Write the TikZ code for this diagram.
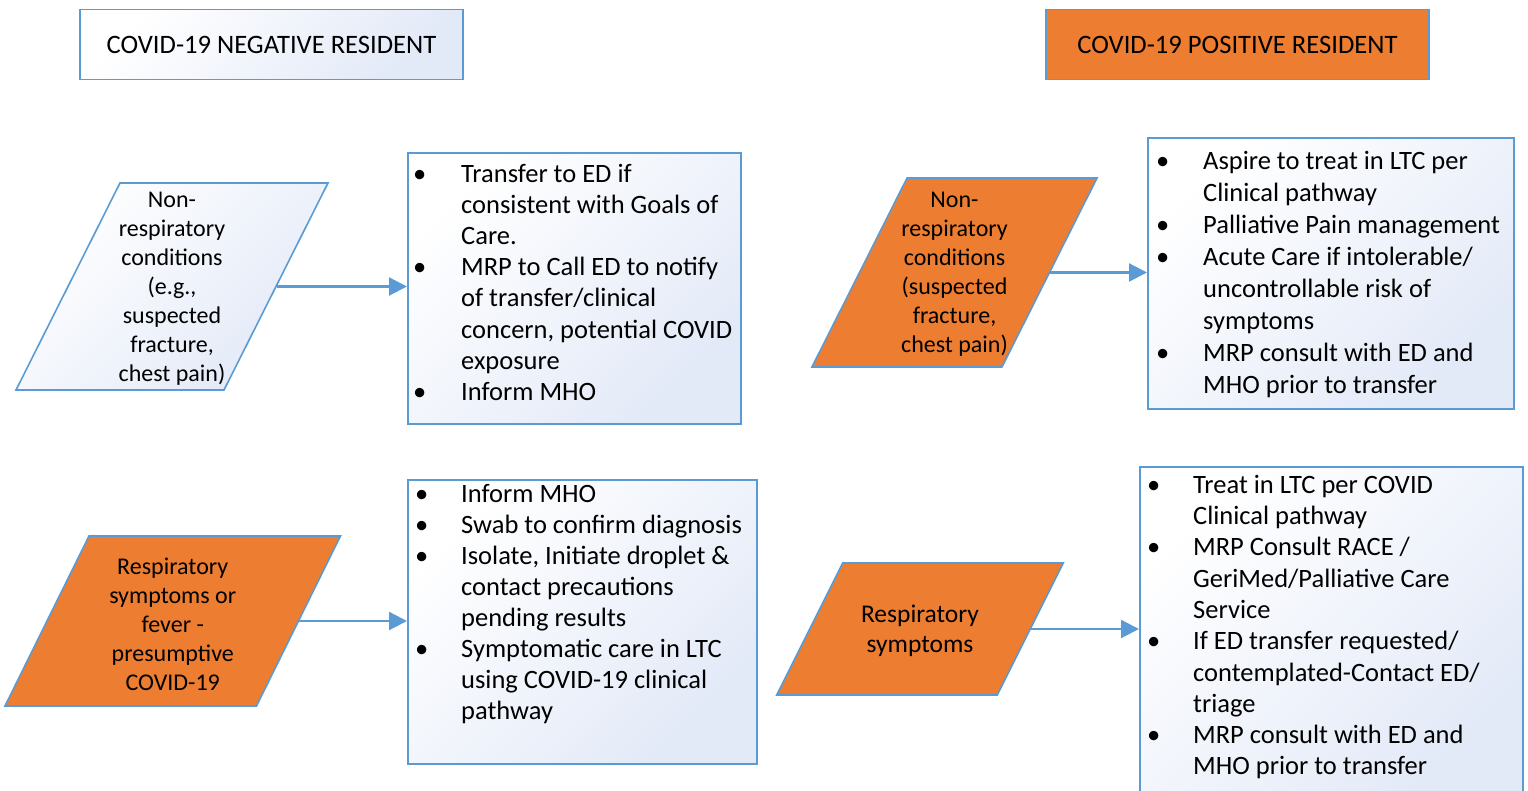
\documentclass[tikz,border=0pt]{standalone}
\usepackage{fontspec}
\setmainfont{Carlito}
\usetikzlibrary{arrows.meta}
\definecolor{bdr}{RGB}{91,155,213}
\definecolor{orng}{RGB}{237,125,49}
\definecolor{lb}{RGB}{226,233,247}
\newcommand\itm[2]{\makebox[#2pt][l]{\hspace{#1pt}\rule{0pt}{20pt}\textbullet}}
\newcommand\cnt[1]{\makebox[#1pt]{}}
\tikzset{
  lightfill/.style={draw=bdr, top color=white, bottom color=lb, shading angle=45},
  hdr/.style={line width=1.6pt, minimum width=383pt, minimum height=70pt, inner sep=0pt,
    font=\fontsize{26.6}{31}\selectfont},
  listbox/.style={lightfill, line width=1.6pt, anchor=north west, inner sep=0pt},
  listtxt/.style={anchor=north west, inner sep=0pt, align=left},
  para/.style={line width=1.6pt, inner sep=0pt, transform shape},
  paratxt/.style={align=center, inner sep=0pt, font=\fontsize{24}{29}\selectfont},
  arr/.style={draw=bdr, line width=2.2pt, -{Triangle[length=18pt,width=18pt]}},
}
\begin{document}
\begin{tikzpicture}[x=1pt,y=1pt]
\useasboundingbox (0,0) rectangle (1528,790);

% headers
\node[hdr, lightfill] (hn) at (271.5,745.5) {COVID-19 NEGATIVE RESIDENT};
\node[hdr, draw=bdr, fill=orng] (hp) at (1237.5,745.5) {COVID-19 POSITIVE RESIDENT};

% list boxes
\node[listbox, minimum width=333pt, minimum height=271pt] (b1) at (407,638) {};
\node[listbox, minimum width=366pt, minimum height=271pt] (b2) at (1147,653) {};
\node[listbox, minimum width=349pt, minimum height=284pt] (b3) at (407,311) {};
\node[listbox, minimum width=383pt, minimum height=334pt] (b4) at (1139,324) {};

\node[listtxt, font=\fontsize{26.5}{31.2}\selectfont] (b1t) at (407,628) {%
\itm{6}{54}Transfer to ED if\\
\cnt{54}consistent with Goals of\\
\cnt{54}Care.\\
\itm{6}{54}MRP to Call ED to notify\\
\cnt{54}of transfer/clinical\\
\cnt{54}concern, potential COVID\\
\cnt{54}exposure\\
\itm{6}{54}Inform MHO};

\node[listtxt, font=\fontsize{26.5}{32.1}\selectfont] (b2t) at (1147,641) {%
\itm{9}{56}Aspire to treat in LTC per\\
\cnt{56}Clinical pathway\\
\itm{9}{56}Palliative Pain management\\
\itm{9}{56}Acute Care if intolerable/\\
\cnt{56}uncontrollable risk of\\
\cnt{56}symptoms\\
\itm{9}{56}MRP consult with ED and\\
\cnt{56}MHO prior to transfer};

\node[listtxt, font=\fontsize{26.5}{31}\selectfont] (b3t) at (407,308) {%
\itm{8}{54}Inform MHO\\
\itm{8}{54}Swab to confirm diagnosis\\
\itm{8}{54}Isolate, Initiate droplet \&\\
\cnt{54}contact precautions\\
\cnt{54}pending results\\
\itm{8}{54}Symptomatic care in LTC\\
\cnt{54}using COVID-19 clinical\\
\cnt{54}pathway};

\node[listtxt, font=\fontsize{26.5}{31.3}\selectfont] (b4t) at (1139,317) {%
\itm{8}{54}Treat in LTC per COVID\\
\cnt{54}Clinical pathway\\
\itm{8}{54}MRP Consult RACE /\\
\cnt{54}GeriMed/Palliative Care\\
\cnt{54}Service\\
\itm{8}{54}If ED transfer requested/\\
\cnt{54}contemplated-Contact ED/\\
\cnt{54}triage\\
\itm{8}{54}MRP consult with ED and\\
\cnt{54}MHO prior to transfer};

% parallelograms
\begin{scope}[shift={(172,503.5)}]
\node[para, lightfill, xslant=0.5024, minimum width=208pt, minimum height=207pt] (p1) at (0,0) {};
\end{scope}
\begin{scope}[shift={(954.5,517.5)}]
\node[para, draw=bdr, fill=orng, xslant=0.503, minimum width=190pt, minimum height=189pt] (p2) at (0,0) {};
\end{scope}
\begin{scope}[shift={(172.75,169)}]
\node[para, draw=bdr, fill=orng, xslant=0.494, minimum width=251.5pt, minimum height=170pt] (p3) at (0,0) {};
\end{scope}
\begin{scope}[shift={(920,161)}]
\node[para, draw=bdr, fill=orng, xslant=0.5, minimum width=220.5pt, minimum height=132pt] (p4) at (0,0) {};
\end{scope}

\node[paratxt] (p1t) at ([yshift=-2.5pt]p1.center) {Non-\\respiratory\\conditions\\(e.g.,\\suspected\\fracture,\\chest pain)};
\node[paratxt] (p2t) at ([yshift=-2pt]p2.center) {Non-\\respiratory\\conditions\\(suspected\\fracture,\\chest pain)};
\node[paratxt] (p3t) at ([yshift=-3pt]p3.center) {Respiratory\\symptoms or\\fever -\\presumptive\\COVID-19};
\node[paratxt, font=\fontsize{25.5}{30.5}\selectfont] (p4t) at ([yshift=-2pt]p4.center) {Respiratory\\symptoms};

% connectors
\draw[arr] (p1.east) -- (p1.east -| b1.west);
\draw[arr] (p2.east) -- (p2.east -| b2.west);
\draw[arr] (p3.east) -- (p3.east -| b3.west);
\draw[arr] (p4.east) -- (p4.east -| b4.west);
\end{tikzpicture}
\end{document}
